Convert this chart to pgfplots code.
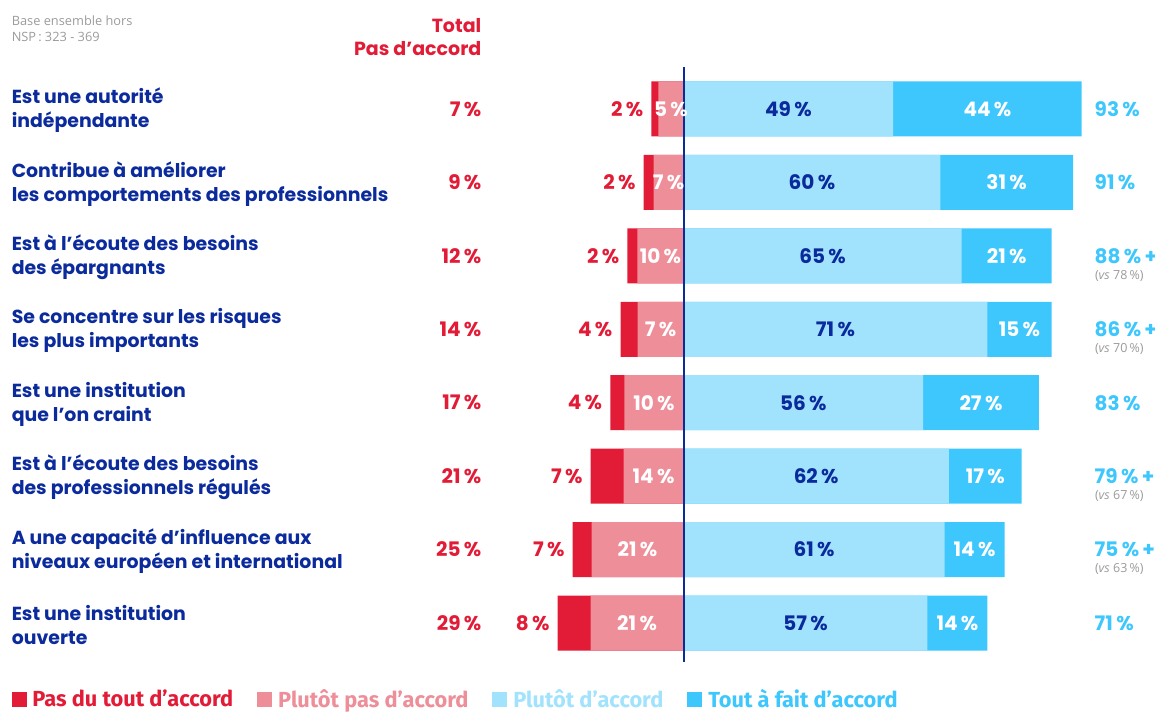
\documentclass[border=0pt]{standalone}
\usepackage{fontspec}
\setmainfont{Poppins}
\newfontfamily\notefont{Open Sans}
\newfontfamily\legfont{Fira Sans}
\usepackage{pgfplots}
\usepackage{pgfplotstable}
\pgfplotsset{compat=1.18}
\definecolor{dkred}{HTML}{E21B36}
\definecolor{pinkc}{HTML}{EE8E99}
\definecolor{ltblue}{HTML}{A1E2FD}
\definecolor{cblue}{HTML}{3EC7FD}
\definecolor{navy}{HTML}{0B2A9C}
\definecolor{gtxt}{HTML}{9B9B9B}
% dk = Pas du tout (bar length), pk = Plutot pas (bar length), pa = Plutot d'accord, tf = Tout a fait
\pgfplotstableread{
row dk pk pa tf
0 1.6 5.9 49 44
1 2.3 7.0 60 31
2 2.3 10.8 65 21
3 4.0 10.7 71 15
4 3.3 13.8 56 27
5 7.7 14.0 62 17
6 4.4 21.5 61 14
7 7.7 21.7 57 14
}\datatable
\newcommand{\pc}[1]{\fontsize{20}{22}\selectfont\bfseries #1\,\%}
\newcommand{\legtxt}[2]{\legfont\fontsize{21.8}{24}\selectfont\bfseries\textcolor{#1}{#2}}
\begin{document}
\begin{tikzpicture}
\begin{axis}[
  scale only axis, width=1155pt, height=711pt,
  xmin=-159.70, xmax=110.16,
  ymin=-1.484, ymax=8.198, y dir=reverse,
  hide axis, clip=false,
  legend columns=4,
  legend style={at={(axis cs:-157,8.035)}, anchor=west, draw=none, fill=none,
    inner sep=0pt, outer sep=0pt,
    nodes={inner sep=0pt, outer sep=0pt},
    /tikz/every odd column/.append style={column sep=6.5pt},
    /tikz/every even column/.append style={column sep=24pt}},
]
\coordinate (SW) at (rel axis cs:0,0);
\coordinate (NE) at (rel axis cs:1,1);
% negative side
\addplot[xbar, bar shift=0pt, bar width=55pt, fill=dkred, draw=none, forget plot]
  table[y=row, x expr={-(\thisrow{dk}+\thisrow{pk})}] {\datatable};
\addplot[xbar, bar shift=0pt, bar width=55pt, fill=pinkc, draw=none, forget plot]
  table[y=row, x expr={-\thisrow{pk}}] {\datatable};
% positive side
\addplot[xbar, bar shift=0pt, bar width=55pt, fill=cblue, draw=none, forget plot]
  table[y=row, x expr={\thisrow{pa}+\thisrow{tf}}] {\datatable};
\addplot[xbar, bar shift=0pt, bar width=55pt, fill=ltblue, draw=none, forget plot]
  table[y=row, x=pa] {\datatable};
% centre line
\addplot[navy, line width=2pt, forget plot] coordinates {(0,-0.572) (0,7.531)};

% legend
\addlegendimage{legend image code/.code={\fill[dkred] (0pt,-7pt) rectangle (14pt,7pt);}}
\addlegendentry{\legtxt{dkred}{Pas du tout d’accord}}
\addlegendimage{legend image code/.code={\fill[pinkc] (0pt,-7pt) rectangle (14pt,7pt);}}
\addlegendentry{\legtxt{pinkc}{Plutôt pas d’accord}}
\addlegendimage{legend image code/.code={\fill[ltblue] (0pt,-7pt) rectangle (14pt,7pt);}}
\addlegendentry{\legtxt{ltblue}{Plutôt d’accord}}
\addlegendimage{legend image code/.code={\fill[cblue] (0pt,-7pt) rectangle (14pt,7pt);}}
\addlegendentry{\legtxt{cblue}{Tout à fait d’accord}}

% header texts
\node[anchor=west, align=left, text=gtxt, font=\notefont\fontsize{12.8}{16}\selectfont, inner sep=0pt]
  at (axis cs:-157,-1.09) {Base ensemble hors\\NSP\,: 323 - 369};
\node[anchor=east, align=right, text=dkred, font=\fontsize{19}{23}\selectfont\bfseries, inner sep=0pt]
  at (axis cs:-47.2,-0.98) {Total\\Pas d’accord};

% category labels
\begin{scope}[every node/.style={anchor=west, align=left, text=navy, inner sep=0pt,
    font=\fontsize{18.9}{24}\selectfont\bfseries}]
\node at (axis cs:-157,0.02) {Est une autorité\\indépendante};
\node at (axis cs:-157,1.02) {Contribue à améliorer\\les comportements des professionnels};
\node at (axis cs:-157,2.02) {Est à l’écoute des besoins\\des épargnants};
\node at (axis cs:-157,3.02) {Se concentre sur les risques\\les plus importants};
\node at (axis cs:-157,4.02) {Est une institution\\que l’on craint};
\node at (axis cs:-157,5.02) {Est à l’écoute des besoins\\des professionnels régulés};
\node at (axis cs:-157,6.02) {A une capacité d’influence aux\\niveaux européen et international};
\node at (axis cs:-157,7.02) {Est une institution\\ouverte};
\end{scope}

% total pas d'accord
\begin{scope}[every node/.style={anchor=east, text=dkred, inner sep=0pt}]
\node at (axis cs:-47.2,0) {\pc{7}};
\node at (axis cs:-47.2,1) {\pc{9}};
\node at (axis cs:-47.2,2) {\pc{12}};
\node at (axis cs:-47.2,3) {\pc{14}};
\node at (axis cs:-47.2,4) {\pc{17}};
\node at (axis cs:-47.2,5) {\pc{21}};
\node at (axis cs:-47.2,6) {\pc{25}};
\node at (axis cs:-47.2,7) {\pc{29}};
\end{scope}

% pas du tout labels (outside left)
\begin{scope}[every node/.style={anchor=east, text=dkred, inner sep=0pt, xshift=-8pt}]
\node at (axis cs:-7.5,0) {\pc{2}};
\node at (axis cs:-9.3,1) {\pc{2}};
\node at (axis cs:-13.1,2) {\pc{2}};
\node at (axis cs:-14.7,3) {\pc{4}};
\node at (axis cs:-17.1,4) {\pc{4}};
\node at (axis cs:-21.7,5) {\pc{7}};
\node at (axis cs:-25.9,6) {\pc{7}};
\node at (axis cs:-29.4,7) {\pc{8}};
\end{scope}

% plutot pas labels
\begin{scope}[every node/.style={text=white, inner sep=0pt}]
\node at (axis cs:-2.95,0) {\pc{5}};
\node at (axis cs:-3.5,1) {\pc{7}};
\node at (axis cs:-5.4,2) {\pc{10}};
\node at (axis cs:-5.35,3) {\pc{7}};
\node at (axis cs:-6.9,4) {\pc{10}};
\node at (axis cs:-7.0,5) {\pc{14}};
\node at (axis cs:-10.75,6) {\pc{21}};
\node at (axis cs:-10.85,7) {\pc{21}};
\end{scope}

% plutot d'accord labels
\begin{scope}[every node/.style={text=navy, inner sep=0pt}]
\node at (axis cs:24.5,0) {\pc{49}};
\node at (axis cs:30,1) {\pc{60}};
\node at (axis cs:32.5,2) {\pc{65}};
\node at (axis cs:35.5,3) {\pc{71}};
\node at (axis cs:28,4) {\pc{56}};
\node at (axis cs:31,5) {\pc{62}};
\node at (axis cs:30.5,6) {\pc{61}};
\node at (axis cs:28.5,7) {\pc{57}};
\end{scope}

% tout a fait labels
\begin{scope}[every node/.style={text=white, inner sep=0pt}]
\node at (axis cs:71,0) {\pc{44}};
\node at (axis cs:75.5,1) {\pc{31}};
\node at (axis cs:75.5,2) {\pc{21}};
\node at (axis cs:78.5,3) {\pc{15}};
\node at (axis cs:69.5,4) {\pc{27}};
\node at (axis cs:70.5,5) {\pc{17}};
\node at (axis cs:68,6) {\pc{14}};
\node at (axis cs:64,7) {\pc{14}};
\end{scope}

% total d'accord
\begin{scope}[every node/.style={anchor=west, text=cblue, inner sep=0pt}]
\node at (axis cs:96.03,0) {\pc{93}};
\node at (axis cs:96.03,1) {\pc{91}};
\node at (axis cs:96.03,2) {\pc{88}\,+};
\node at (axis cs:96.03,3) {\pc{86}\,+};
\node at (axis cs:96.03,4) {\pc{83}};
\node at (axis cs:96.03,5) {\pc{79}\,+};
\node at (axis cs:96.03,6) {\pc{75}\,+};
\node at (axis cs:96.03,7) {\pc{71}};
\end{scope}
\begin{scope}[every node/.style={anchor=west, text=gtxt, inner sep=0pt,
    font=\notefont\fontsize{12.5}{14}\selectfont}]
\node at (axis cs:96.1,2.27) {(\textit{vs} 78\,\%)};
\node at (axis cs:96.1,3.27) {(\textit{vs} 70\,\%)};
\node at (axis cs:96.1,5.27) {(\textit{vs} 67\,\%)};
\node at (axis cs:96.1,6.27) {(\textit{vs} 63\,\%)};
\end{scope}
\end{axis}
\pgfresetboundingbox
\path (SW) rectangle (NE);
\end{tikzpicture}
\end{document}
